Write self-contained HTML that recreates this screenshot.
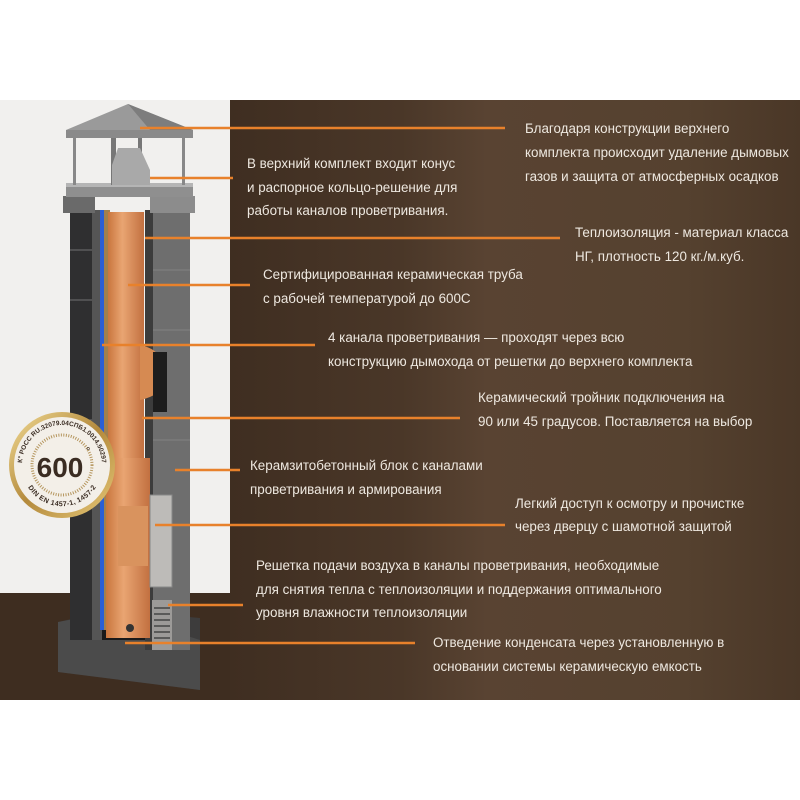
<!DOCTYPE html>
<html><head><meta charset="utf-8"><style>
html,body{margin:0;padding:0;background:#fff}
svg{display:block}
text{font-family:"Liberation Sans","DejaVu Sans",sans-serif;font-size:13.4px;fill:#eee8e0}
</style></head><body>
<svg width="800" height="800" viewBox="0 0 800 800" xmlns="http://www.w3.org/2000/svg">
<defs>
<linearGradient id="bg" x1="0" y1="0" x2="1" y2="0">
<stop offset="0" stop-color="#3f2e21"/><stop offset="0.3" stop-color="#4a3728"/><stop offset="0.45" stop-color="#594332"/><stop offset="0.8" stop-color="#55412f"/><stop offset="1" stop-color="#4a3727"/>
</linearGradient>
<linearGradient id="pipe" x1="0" x2="1"><stop offset="0" stop-color="#c9763e"/><stop offset="0.4" stop-color="#e9a572"/><stop offset="1" stop-color="#c27040"/></linearGradient>
<linearGradient id="gold" x1="0" y1="0" x2="1" y2="1"><stop offset="0" stop-color="#f2dc96"/><stop offset="0.5" stop-color="#b48a3c"/><stop offset="1" stop-color="#e6c878"/></linearGradient>
<path id="arcT" d="M22,465 A40,40 0 0 1 102,465"/>
<path id="arcB" d="M28,478 A36,36 0 0 0 96,478"/>
</defs>
<rect x="0" y="100" width="230" height="495" fill="#f1f0ee"/>
<rect x="0" y="593" width="230" height="107" fill="#3e2d20"/>
<rect x="230" y="100" width="570" height="600" fill="url(#bg)"/>
<!-- base -->
<polygon points="58,622 112,610 200,618 200,690 58,672" fill="#3d3c3c"/>
<polygon points="58,622 112,612 200,640 200,690 58,672" fill="#555" opacity="0.6"/>
<polygon points="95,625 185,630 185,640 95,640" fill="#1a1a1a"/>
<!-- walls -->
<rect x="70" y="210" width="22" height="430" fill="#2f2f30"/>
<rect x="92" y="210" width="10" height="430" fill="#555"/>
<rect x="100" y="210" width="4" height="420" fill="#2a5fd6"/>
<rect x="104" y="210" width="6" height="420" fill="#a0804f"/>
<rect x="145" y="210" width="45" height="440" fill="#6e6e6e"/>
<rect x="145" y="210" width="8" height="440" fill="#3c3c3c"/>
<g stroke="#888" stroke-width="0.8"><line x1="153" y1="270" x2="190" y2="270"/><line x1="153" y1="330" x2="190" y2="330"/><line x1="153" y1="440" x2="190" y2="440"/><line x1="70" y1="250" x2="92" y2="250"/><line x1="70" y1="300" x2="92" y2="300"/><line x1="70" y1="420" x2="92" y2="420"/></g>
<!-- pipe -->
<rect x="108" y="212" width="36" height="250" fill="url(#pipe)"/>
<path d="M140 345 q25 5 25 30 q0 20 -25 25 z" fill="#d68a52"/>
<rect x="153" y="352" width="14" height="60" fill="#1d1d1d"/>
<rect x="106" y="458" width="44" height="180" fill="url(#pipe)"/>
<rect x="118" y="506" width="30" height="60" fill="#d9935e"/>
<rect x="150" y="495" width="22" height="92" fill="#bdbbb8" stroke="#888"/>
<rect x="152" y="600" width="20" height="50" fill="#9c9a98"/>
<g stroke="#444" stroke-width="1.5"><line x1="154" y1="608" x2="170" y2="608"/><line x1="154" y1="614" x2="170" y2="614"/><line x1="154" y1="620" x2="170" y2="620"/><line x1="154" y1="626" x2="170" y2="626"/><line x1="154" y1="632" x2="170" y2="632"/><line x1="154" y1="638" x2="170" y2="638"/></g>
<circle cx="130" cy="628" r="4" fill="#333"/>
<!-- top blocks -->
<rect x="63" y="196" width="32" height="17" fill="#6a6a6a"/>
<rect x="150" y="196" width="45" height="17" fill="#8c8c8c"/>
<!-- cap -->
<rect x="66" y="183" width="127" height="14" fill="#8f8f8f"/>
<rect x="66" y="183" width="127" height="4" fill="#b5b5b5"/>
<rect x="73" y="137" width="3" height="48" fill="#888"/><rect x="182" y="137" width="3" height="48" fill="#888"/>
<rect x="111" y="137" width="5" height="48" fill="#777"/><rect x="138" y="137" width="4" height="20" fill="#777"/>
<polygon points="118,148 140,148 150,170 150,185 112,185 112,165" fill="#a9a9a9"/>
<polygon points="128,104 66,130 193,130" fill="#9a9a9a"/>
<polygon points="128,104 193,130 150,130" fill="#7d7d7d"/>
<rect x="66" y="130" width="127" height="8" fill="#8a8a8a"/>
<!-- badge -->
<circle cx="62" cy="465" r="53" fill="url(#gold)"/>
<circle cx="62" cy="465" r="48" fill="#f3efe8"/>
<circle cx="62" cy="465" r="30" fill="none" stroke="#b5965e" stroke-width="3" stroke-dasharray="1 1.5"/>
<text x="60" y="477" text-anchor="middle" style="font-size:28px;font-weight:bold;fill:#3a2c22">600</text>
<text x="86" y="455" style="font-size:11px;fill:#3a2c22">°</text>
<text style="font-size:6.5px;font-weight:bold;fill:#3a2c22"><textPath href="#arcT" startOffset="50%" text-anchor="middle">К° РОСС RU.32079.04СПБ1.0014.50297</textPath></text>
<text style="font-size:7px;font-weight:bold;fill:#3a2c22"><textPath href="#arcB" startOffset="50%" text-anchor="middle" dominant-baseline="hanging">DIN EN 1457-1, 1457-2</textPath></text>
<!-- connectors -->
<g stroke="#e8812b" stroke-width="2.6">
<line x1="140" y1="128" x2="505" y2="128"/>
<line x1="150" y1="178" x2="233" y2="178"/>
<line x1="145" y1="238" x2="560" y2="238"/>
<line x1="128" y1="285" x2="250" y2="285"/>
<line x1="102" y1="345" x2="315" y2="345"/>
<line x1="142" y1="418" x2="460" y2="418"/>
<line x1="175" y1="470" x2="240" y2="470"/>
<line x1="155" y1="525" x2="505" y2="525"/>
<line x1="168" y1="605" x2="243" y2="605"/>
<line x1="125" y1="643" x2="415" y2="643"/>
</g>
<text x="525" y="133">Благодаря конструкции верхнего</text>
<text x="525" y="157">комплекта происходит удаление дымовых</text>
<text x="525" y="181">газов и защита от атмосферных осадков</text>
<text x="247" y="168">В верхний комплект входит конус</text>
<text x="247" y="192">и распорное кольцо-решение для</text>
<text x="247" y="215">работы каналов проветривания.</text>
<text x="575" y="237">Теплоизоляция - материал класса</text>
<text x="575" y="261">НГ, плотность 120 кг./м.куб.</text>
<text x="263" y="279">Сертифицированная керамическая труба</text>
<text x="263" y="303">с рабочей температурой до 600С</text>
<text x="328" y="342">4 канала проветривания — проходят через всю</text>
<text x="328" y="366">конструкцию дымохода от решетки до верхнего комплекта</text>
<text x="478" y="402">Керамический тройник подключения на</text>
<text x="478" y="426">90 или 45 градусов. Поставляется на выбор</text>
<text x="250" y="470">Керамзитобетонный блок с каналами</text>
<text x="250" y="494">проветривания и армирования</text>
<text x="515" y="508">Легкий доступ к осмотру и прочистке</text>
<text x="515" y="531">через дверцу с шамотной защитой</text>
<text x="256" y="570">Решетка подачи воздуха в каналы проветривания, необходимые</text>
<text x="256" y="594">для снятия тепла с теплоизоляции и поддержания оптимального</text>
<text x="256" y="617">уровня влажности теплоизоляции</text>
<text x="433" y="647">Отведение конденсата через установленную в</text>
<text x="433" y="671">основании системы керамическую емкость</text>
</svg>
</body></html>
